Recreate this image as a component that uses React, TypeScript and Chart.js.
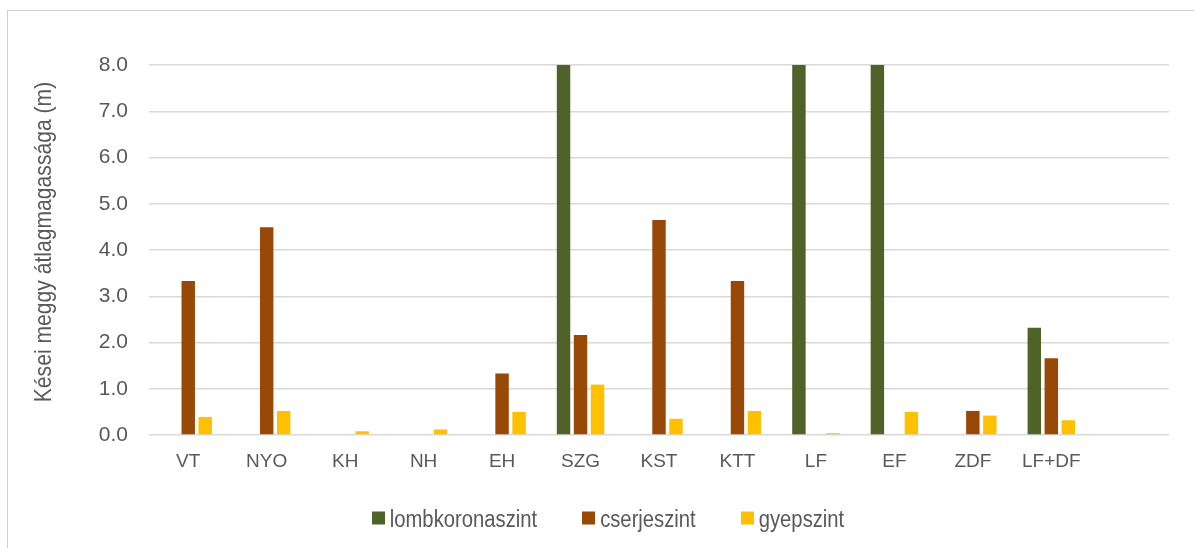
import React, { useEffect, useRef } from "react";
import { Chart, registerables } from "chart.js";

Chart.register(...registerables);

// ---- data ----
const categories = ["VT", "NYO", "KH", "NH", "EH", "SZG", "KST", "KTT", "LF", "EF", "ZDF", "LF+DF", ""];
const seriesNames = ["lombkoronaszint", "cserjeszint", "gyepszint"];
const lombkoronaszint = [null, null, null, null, null, 8.0, null, null, 8.0, 8.0, null, 2.32, null];
const cserjeszint = [3.33, 4.49, null, null, 1.33, 2.16, 4.65, 3.33, null, null, 0.52, 1.66, null];
const gyepszint = [0.39, 0.52, 0.08, 0.12, 0.5, 1.09, 0.35, 0.52, 0.04, 0.5, 0.42, 0.32, null];
const yMin = 0;
const yMax = 8;
const yStep = 1;
const yTitle = "Kései meggy átlagmagassága (m)";

// ---- styles ----
const COLORS = ["#4F6228", "#984807", "#FFC000"];
const TEXT = "#595959";
const GRID = "#D9D9D9";
const FONT = "'Liberation Sans', Arial, sans-serif";
const W = 1194;
const H = 548;
const NARROW = 0.88;

const overlayPlugin = {
  id: "overlay",
  afterDraw(chart: any) {
    const ctx = chart.ctx as CanvasRenderingContext2D;
    const area = chart.chartArea;
    // y-axis title (slightly condensed like the original)
    ctx.save();
    ctx.fillStyle = TEXT;
    ctx.font = `24px ${FONT}`;
    ctx.translate(44, (area.top + area.bottom) / 2 - 8);
    ctx.rotate(-Math.PI / 2);
    ctx.scale(NARROW, 1);
    ctx.textAlign = "center";
    ctx.textBaseline = "middle";
    ctx.fillText(yTitle, 0, 0);
    ctx.restore();

    // legend
    ctx.save();
    ctx.font = `23px ${FONT}`;
    const box = 13;
    const gap = 5;
    const itemGap = 45;
    const cx = 608;
    const cy = 518;
    const widths = chart.data.datasets.map(
      (ds: any) => box + gap + ctx.measureText(ds.label).width * NARROW
    );
    const total = widths.reduce((a: number, b: number) => a + b, 0) + itemGap * (widths.length - 1);
    let x = cx - total / 2;
    chart.data.datasets.forEach((ds: any, i: number) => {
      ctx.fillStyle = ds.backgroundColor;
      ctx.fillRect(Math.round(x), cy - box / 2, box, box);
      ctx.save();
      ctx.translate(x + box + gap, cy + 8.5);
      ctx.scale(NARROW, 1);
      ctx.fillStyle = TEXT;
      ctx.textAlign = "left";
      ctx.textBaseline = "alphabetic";
      ctx.fillText(ds.label, 0, 0);
      ctx.restore();
      x += widths[i] + itemGap;
    });
    ctx.restore();
  },
};

export default function App() {
  const ref = useRef<HTMLCanvasElement | null>(null);

  useEffect(() => {
    if (!ref.current) return;
    const seriesData = [lombkoronaszint, cserjeszint, gyepszint];
    const chart = new Chart(ref.current, {
      type: "bar",
      data: {
        labels: categories,
        datasets: seriesNames.map((name, i) => ({
          label: name,
          data: seriesData[i],
          backgroundColor: COLORS[i],
          borderWidth: 0,
          categoryPercentage: 0.65,
          barPercentage: 0.79,
        })),
      },
      options: {
        responsive: false,
        animation: false,
        devicePixelRatio: 1,
        layout: { padding: { left: 0, right: W - 1169, top: 65, bottom: 0 } },
        plugins: {
          legend: { display: false },
          tooltip: { enabled: false },
        },
        scales: {
          x: {
            grid: { display: false, drawTicks: false },
            border: { display: false },
            ticks: {
              color: TEXT,
              font: { family: FONT, size: 19 },
              padding: 15,
              maxRotation: 0,
              autoSkip: false,
            },
            afterFit(scale: any) {
              scale.height = H - 435;
            },
          },
          y: {
            min: yMin,
            max: yMax,
            grid: { color: GRID, lineWidth: 1.5, drawTicks: false },
            border: { display: false },
            ticks: {
              stepSize: yStep,
              color: TEXT,
              font: { family: FONT, size: 21 },
              padding: 21,
              callback: (v: any) => Number(v).toFixed(1),
            },
            afterFit(scale: any) {
              scale.width = 149;
            },
          },
        },
      },
      plugins: [overlayPlugin],
    });
    return () => chart.destroy();
  }, []);

  return (
    <div style={{ position: "fixed", left: 0, top: 0, width: W, height: H, overflow: "hidden", background: "#fff" }}>
      <div
        style={{
          position: "absolute",
          left: 7,
          top: 10,
          width: W + 20,
          height: H + 20,
          border: "1px solid #D0D0D0",
          boxSizing: "border-box",
        }}
      />
      <canvas ref={ref} width={W} height={H} style={{ position: "absolute", left: 0, top: 0, display: "block" }} />
    </div>
  );
}
